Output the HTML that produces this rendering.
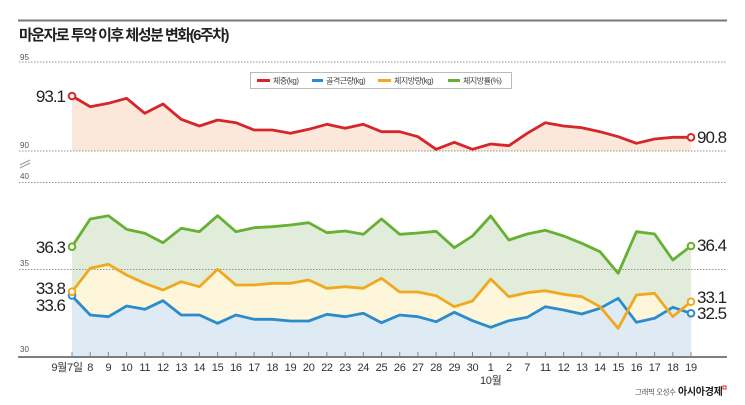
<!DOCTYPE html>
<html>
<head>
<meta charset="utf-8">
<style>
html,body{margin:0;padding:0;background:#fff;}
svg{display:block;}
text{font-family:"Liberation Sans","Noto Sans CJK KR",sans-serif;}
</style>
</head>
<body>
<svg width="745" height="405" viewBox="0 0 745 405" xmlns="http://www.w3.org/2000/svg">
<rect width="745" height="405" fill="#fff"/>
<!-- top rule -->
<line x1="18" y1="20.5" x2="727" y2="20.5" stroke="#777" stroke-width="2"/>
<text x="19" y="40" font-size="15" font-weight="bold" fill="#222" letter-spacing="-1.5" style="font-family:'Liberation Sans','Noto Sans CJK KR',sans-serif">마운자로 투약 이후 체성분 변화(6주차)</text>

<!-- fills -->
<polygon fill="#fbe8da" points="72,96 90.2,106.7 108.4,103.3 126.6,98.3 144.8,113.3 163,104 181.2,119.3 199.4,126 217.6,120 235.9,122.7 254.1,130 272.3,130 290.5,133.3 308.7,129.3 326.9,124.3 345.1,128.3 363.3,124.3 381.5,131.7 399.7,131.7 417.9,136.7 436.1,149.3 454.3,142.3 472.5,149.3 490.7,144 508.9,145.7 527.2,133.3 545.4,122.7 563.6,126 581.8,127.7 600,131.7 618.2,136.7 636.4,143.3 654.6,139 672.8,137.3 691,137.3 691,151 72,151"/>
<polygon fill="#e2ecdb" points="72,246.7 90.2,219 108.4,215.7 126.6,229.3 144.8,233.3 163,242.7 181.2,228.3 199.4,231.7 217.6,215.7 235.9,231.7 254.1,227.7 272.3,226.7 290.5,225 308.7,222.7 326.9,232.7 345.1,231 363.3,234.3 381.5,219 399.7,234.3 417.9,233 436.1,231.3 454.3,247.7 472.5,236 490.7,216 508.9,240 527.2,234 545.4,230.3 563.6,236 581.8,243.3 600,251.7 618.2,273.3 636.4,231.7 654.6,234 672.8,260 691,246 691,357 72,357"/>
<polygon fill="#fdf6da" points="72,291.7 90.2,268.3 108.4,264.3 126.6,275 144.8,283.3 163,290 181.2,281.7 199.4,286.7 217.6,269.3 235.9,285 254.1,285 272.3,283.3 290.5,283.3 308.7,280 326.9,288.3 345.1,286.7 363.3,288.3 381.5,278.3 399.7,292 417.9,292 436.1,295.7 454.3,306.7 472.5,301 490.7,279 508.9,296.7 527.2,292.7 545.4,290.7 563.6,294.3 581.8,296.7 600,306.7 618.2,328.3 636.4,295 654.6,293.3 672.8,316.7 691,301.7 691,357 72,357"/>
<polygon fill="#deebf5" points="72,296 90.2,315 108.4,316.7 126.6,306 144.8,309.3 163,300.7 181.2,315 199.4,315 217.6,323.3 235.9,315 254.1,319.3 272.3,319.3 290.5,321 308.7,321 326.9,314.3 345.1,316.7 363.3,313.3 381.5,322.7 399.7,315 417.9,316.7 436.1,321.7 454.3,312.3 472.5,320.7 490.7,327.3 508.9,320.7 527.2,317.3 545.4,306.7 563.6,310 581.8,314 600,308.3 618.2,298.3 636.4,322.3 654.6,318.3 672.8,307.3 691,313.3 691,357 72,357"/>

<!-- gridlines -->
<g stroke="#939393" stroke-width="1" stroke-dasharray="1.5,1.5" fill="none">
<line x1="19" y1="62" x2="727" y2="62"/>
<line x1="19" y1="151" x2="727" y2="151"/>
<line x1="19" y1="182.5" x2="727" y2="182.5"/>
<line x1="19" y1="269.5" x2="727" y2="269.5"/>
</g>
<g font-size="8" fill="#555">
<text x="20" y="60">95</text>
<text x="20" y="148">90</text>
<text x="20" y="179">40</text>
<text x="20" y="266">35</text>
<text x="20" y="352">30</text>
</g>
<!-- break mark -->
<g stroke="#999" stroke-width="1">
<line x1="20" y1="165" x2="30" y2="160"/>
<line x1="20" y1="168" x2="30" y2="163"/>
</g>

<!-- legend -->
<rect x="250.5" y="72.5" width="261" height="16" fill="#fff" stroke="#bbb" stroke-width="1"/>
<g stroke-width="3">
<line x1="257" y1="80.5" x2="270" y2="80.5" stroke="#d6262b"/>
<line x1="312" y1="80.5" x2="323" y2="80.5" stroke="#2b8ccc"/>
<line x1="378" y1="80.5" x2="391" y2="80.5" stroke="#f0a91e"/>
<line x1="448" y1="80.5" x2="460" y2="80.5" stroke="#66b032"/>
</g>
<g font-size="8" fill="#444" letter-spacing="-0.5">
<text x="273" y="83.5">체중(kg)</text>
<text x="326" y="83.5">골격근량(kg)</text>
<text x="394" y="83.5">체지방량(kg)</text>
<text x="463" y="83.5">체지방률(%)</text>
</g>

<!-- lines -->
<g fill="none" stroke-width="2.8" stroke-linejoin="round" stroke-linecap="round">
<polyline stroke="#d6262b" points="72,96 90.2,106.7 108.4,103.3 126.6,98.3 144.8,113.3 163,104 181.2,119.3 199.4,126 217.6,120 235.9,122.7 254.1,130 272.3,130 290.5,133.3 308.7,129.3 326.9,124.3 345.1,128.3 363.3,124.3 381.5,131.7 399.7,131.7 417.9,136.7 436.1,149.3 454.3,142.3 472.5,149.3 490.7,144 508.9,145.7 527.2,133.3 545.4,122.7 563.6,126 581.8,127.7 600,131.7 618.2,136.7 636.4,143.3 654.6,139 672.8,137.3 691,137.3"/>
<polyline stroke="#66b032" points="72,246.7 90.2,219 108.4,215.7 126.6,229.3 144.8,233.3 163,242.7 181.2,228.3 199.4,231.7 217.6,215.7 235.9,231.7 254.1,227.7 272.3,226.7 290.5,225 308.7,222.7 326.9,232.7 345.1,231 363.3,234.3 381.5,219 399.7,234.3 417.9,233 436.1,231.3 454.3,247.7 472.5,236 490.7,216 508.9,240 527.2,234 545.4,230.3 563.6,236 581.8,243.3 600,251.7 618.2,273.3 636.4,231.7 654.6,234 672.8,260 691,246"/>
<polyline stroke="#2b8ccc" points="72,296 90.2,315 108.4,316.7 126.6,306 144.8,309.3 163,300.7 181.2,315 199.4,315 217.6,323.3 235.9,315 254.1,319.3 272.3,319.3 290.5,321 308.7,321 326.9,314.3 345.1,316.7 363.3,313.3 381.5,322.7 399.7,315 417.9,316.7 436.1,321.7 454.3,312.3 472.5,320.7 490.7,327.3 508.9,320.7 527.2,317.3 545.4,306.7 563.6,310 581.8,314 600,308.3 618.2,298.3 636.4,322.3 654.6,318.3 672.8,307.3 691,313.3"/>
<polyline stroke="#f0a91e" points="72,291.7 90.2,268.3 108.4,264.3 126.6,275 144.8,283.3 163,290 181.2,281.7 199.4,286.7 217.6,269.3 235.9,285 254.1,285 272.3,283.3 290.5,283.3 308.7,280 326.9,288.3 345.1,286.7 363.3,288.3 381.5,278.3 399.7,292 417.9,292 436.1,295.7 454.3,306.7 472.5,301 490.7,279 508.9,296.7 527.2,292.7 545.4,290.7 563.6,294.3 581.8,296.7 600,306.7 618.2,328.3 636.4,295 654.6,293.3 672.8,316.7 691,301.7"/>
</g>

<!-- end markers -->
<g fill="#fff" stroke-width="2">
<circle cx="72" cy="96" r="3.3" stroke="#d6262b"/>
<circle cx="691" cy="137.3" r="3.3" stroke="#d6262b"/>
<circle cx="72" cy="246.7" r="3.3" stroke="#66b032"/>
<circle cx="691" cy="246" r="3.3" stroke="#66b032"/>
<circle cx="72" cy="295.5" r="3.3" stroke="#2b8ccc"/>
<circle cx="691" cy="313.3" r="3.3" stroke="#2b8ccc"/>
<circle cx="72" cy="291.7" r="3.3" stroke="#f0a91e"/>
<circle cx="691" cy="301.7" r="3.3" stroke="#f0a91e"/>
</g>

<!-- value labels -->
<g font-size="17" fill="#222" letter-spacing="-1">
<text x="65" y="102" text-anchor="end">93.1</text>
<text x="65" y="253" text-anchor="end">36.3</text>
<text x="65" y="294" text-anchor="end">33.8</text>
<text x="65" y="311" text-anchor="end">33.6</text>
<text x="697" y="143">90.8</text>
<text x="697" y="251">36.4</text>
<text x="697" y="303">33.1</text>
<text x="697" y="319">32.5</text>
</g>

<!-- x axis -->
<line x1="18" y1="357" x2="727" y2="357" stroke="#555" stroke-width="1.5"/>
<g stroke="#888" stroke-width="1">
<line x1="72" y1="352" x2="72" y2="357"/><line x1="90.2" y1="352" x2="90.2" y2="357"/><line x1="108.4" y1="352" x2="108.4" y2="357"/><line x1="126.6" y1="352" x2="126.6" y2="357"/><line x1="144.8" y1="352" x2="144.8" y2="357"/><line x1="163" y1="352" x2="163" y2="357"/><line x1="181.2" y1="352" x2="181.2" y2="357"/><line x1="199.4" y1="352" x2="199.4" y2="357"/><line x1="217.6" y1="352" x2="217.6" y2="357"/><line x1="235.9" y1="352" x2="235.9" y2="357"/><line x1="254.1" y1="352" x2="254.1" y2="357"/><line x1="272.3" y1="352" x2="272.3" y2="357"/><line x1="290.5" y1="352" x2="290.5" y2="357"/><line x1="308.7" y1="352" x2="308.7" y2="357"/><line x1="326.9" y1="352" x2="326.9" y2="357"/><line x1="345.1" y1="352" x2="345.1" y2="357"/><line x1="363.3" y1="352" x2="363.3" y2="357"/><line x1="381.5" y1="352" x2="381.5" y2="357"/><line x1="399.7" y1="352" x2="399.7" y2="357"/><line x1="417.9" y1="352" x2="417.9" y2="357"/><line x1="436.1" y1="352" x2="436.1" y2="357"/><line x1="454.3" y1="352" x2="454.3" y2="357"/><line x1="472.5" y1="352" x2="472.5" y2="357"/><line x1="490.7" y1="352" x2="490.7" y2="357"/><line x1="508.9" y1="352" x2="508.9" y2="357"/><line x1="527.2" y1="352" x2="527.2" y2="357"/><line x1="545.4" y1="352" x2="545.4" y2="357"/><line x1="563.6" y1="352" x2="563.6" y2="357"/><line x1="581.8" y1="352" x2="581.8" y2="357"/><line x1="600" y1="352" x2="600" y2="357"/><line x1="618.2" y1="352" x2="618.2" y2="357"/><line x1="636.4" y1="352" x2="636.4" y2="357"/><line x1="654.6" y1="352" x2="654.6" y2="357"/><line x1="672.8" y1="352" x2="672.8" y2="357"/><line x1="691" y1="352" x2="691" y2="357"/>
</g>
<g font-size="11" fill="#333" text-anchor="middle" letter-spacing="-0.3">
<text x="67" y="371">9월7일</text>
<text x="90.2" y="371">8</text><text x="108.4" y="371">9</text><text x="126.6" y="371">10</text><text x="144.8" y="371">11</text><text x="163" y="371">12</text><text x="181.2" y="371">13</text><text x="199.4" y="371">14</text><text x="217.6" y="371">15</text><text x="235.9" y="371">16</text><text x="254.1" y="371">17</text><text x="272.3" y="371">18</text><text x="290.5" y="371">19</text><text x="308.7" y="371">20</text><text x="326.9" y="371">22</text><text x="345.1" y="371">23</text><text x="363.3" y="371">24</text><text x="381.5" y="371">25</text><text x="399.7" y="371">26</text><text x="417.9" y="371">27</text><text x="436.1" y="371">28</text><text x="454.3" y="371">29</text><text x="472.5" y="371">30</text><text x="490.7" y="371">1</text><text x="508.9" y="371">2</text><text x="527.2" y="371">7</text><text x="545.4" y="371">11</text><text x="563.6" y="371">12</text><text x="581.8" y="371">13</text><text x="600" y="371">14</text><text x="618.2" y="371">15</text><text x="636.4" y="371">16</text><text x="654.6" y="371">17</text><text x="672.8" y="371">18</text><text x="691" y="371">19</text>
<text x="490.7" y="384">10월</text>
</g>

<!-- credit -->
<text x="635" y="394.5" font-size="7.5" fill="#555" letter-spacing="-0.4">그래픽 오성수</text>
<text x="678" y="395" font-size="10" font-weight="bold" fill="#222" letter-spacing="-0.3">아시아경제</text>
<rect x="723" y="386" width="3" height="3" fill="none" stroke="#d6262b" stroke-width="1"/>
</svg>
</body>
</html>
